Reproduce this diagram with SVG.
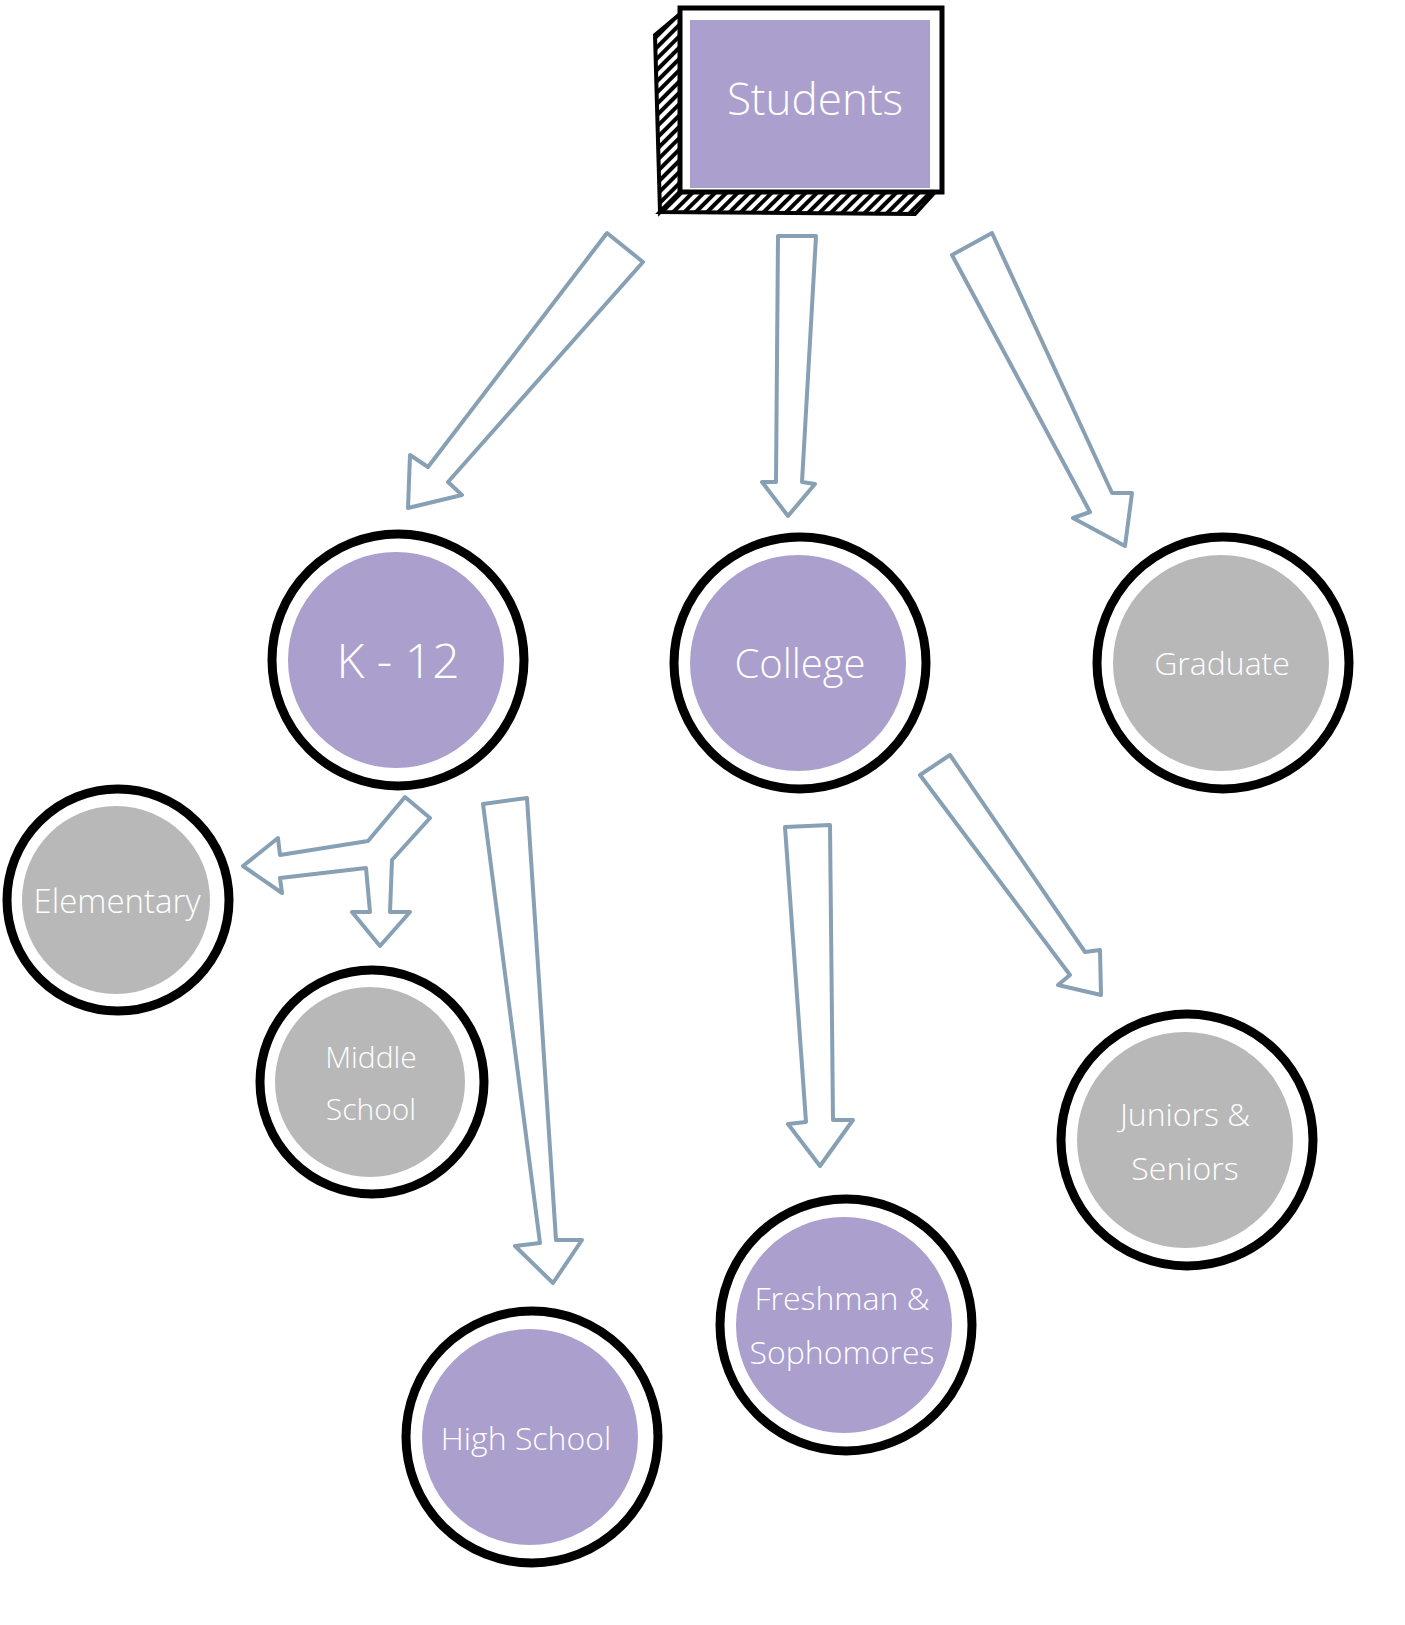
<svg xmlns="http://www.w3.org/2000/svg" width="1405" height="1625" viewBox="0 0 1405 1625">
<style>
.ring{fill:#fff;stroke:#000;stroke-width:9}
.p{fill:#ab9fcd}.g{fill:#b8b8b8}
.arr{fill:#fff;stroke:#87a0b4;stroke-width:4;stroke-linejoin:round}
text{font-family:"Open Sans",sans-serif;font-weight:300;fill:#fff;text-anchor:middle}
</style>
<defs>
<pattern id="h" width="8" height="8" patternUnits="userSpaceOnUse" patternTransform="rotate(45)">
<rect width="8" height="8" fill="#fff"/><rect width="4" height="8" fill="#000"/></pattern>
</defs>
<g id="connectors">
<polygon class="arr" points="607,233 643,262 448,482 462,495 408,508 410,455 428,467"/>
<polygon class="arr" points="778,236 816,236 802,482 815,484 788,516 762,482 776,482"/>
<polygon class="arr" points="952,255 992,233 1112,493 1132,493 1125,546 1073,518 1090,512"/>
<polygon class="arr" points="405,797 430,818 392,860 390,912 410,912 380,946 352,912 370,912 366,868 280,878 282,893 243,866 278,838 280,855 368,841"/>
<polygon class="arr" points="483,804 527,798 556,1240 582,1240 553,1283 515,1246 540,1243"/>
<polygon class="arr" points="785,827 830,825 833,1120 853,1120 820,1166 788,1124 806,1122"/>
<polygon class="arr" points="920,775 950,755 1085,952 1100,950 1101,995 1058,985 1070,975"/>
</g>
<g id="students">
<polygon points="655,35 680,14 680,192 660,212" fill="url(#h)" stroke="#000" stroke-width="4"/>
<polygon points="660,212 680,192 935,192 915,214" fill="url(#h)" stroke="#000" stroke-width="4"/>
<rect x="680" y="8" width="262" height="184" fill="#fff" stroke="#000" stroke-width="5"/>
<rect x="690" y="20" width="240" height="168" class="p"/>
<text x="815" y="115" font-size="44">Students</text>
</g>
<g id="k12"><circle class="ring" cx="398" cy="660" r="126"/><circle class="p" cx="396" cy="660" r="108"/><text x="398" y="678" font-size="48">K - 12</text></g>
<g id="college"><circle class="ring" cx="800" cy="663" r="126"/><circle class="p" cx="798" cy="663" r="108"/><text x="800" y="678" font-size="40">College</text></g>
<g id="graduate"><circle class="ring" cx="1223" cy="663" r="126"/><circle class="g" cx="1221" cy="663" r="108"/><text x="1222" y="675" font-size="32">Graduate</text></g>
<g id="elementary"><circle class="ring" cx="118" cy="900" r="111"/><circle class="g" cx="116" cy="900" r="94"/><text x="117" y="913" font-size="33">Elementary</text></g>
<g id="middle"><circle class="ring" cx="372" cy="1082" r="112"/><circle class="g" cx="370" cy="1082" r="95"/><text x="371" y="1068" font-size="30">Middle</text><text x="371" y="1120" font-size="30">School</text></g>
<g id="high"><circle class="ring" cx="532" cy="1437" r="126"/><circle class="p" cx="530" cy="1437" r="108"/><text x="526" y="1450" font-size="32">High School</text></g>
<g id="freshman"><circle class="ring" cx="846" cy="1325" r="126"/><circle class="p" cx="844" cy="1325" r="108"/><text x="842" y="1310" font-size="32">Freshman &amp;</text><text x="842" y="1364" font-size="32">Sophomores</text></g>
<g id="juniors"><circle class="ring" cx="1187" cy="1140" r="126"/><circle class="g" cx="1185" cy="1140" r="108"/><text x="1185" y="1126" font-size="32">Juniors &amp;</text><text x="1185" y="1180" font-size="32">Seniors</text></g>
</svg>
